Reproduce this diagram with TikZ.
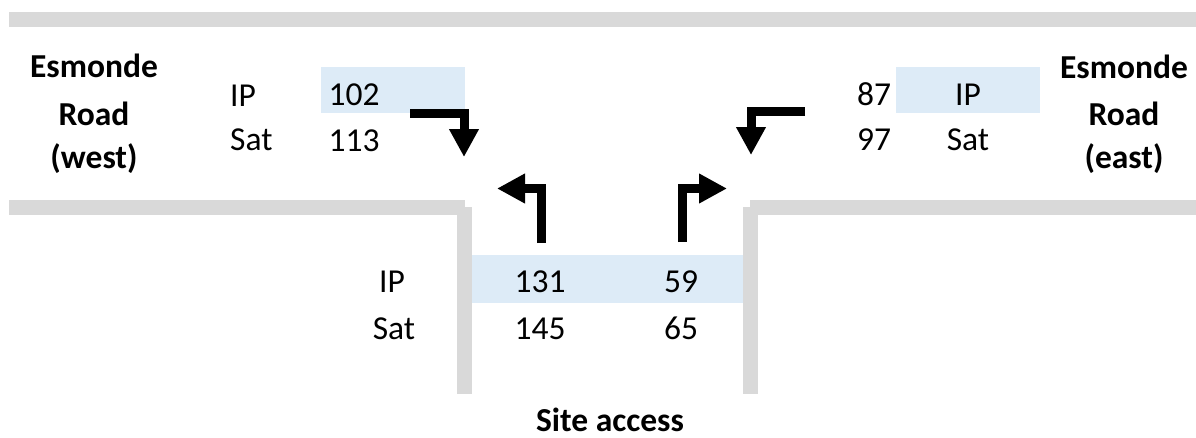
\documentclass[tikz,border=0pt]{standalone}
\usepackage{fontspec}
\setmainfont{Carlito}
\usetikzlibrary{arrows.meta}
\definecolor{kerbgrey}{HTML}{D9D9D9}
\definecolor{peakblue}{HTML}{DDEBF7}
\begin{document}
\begin{tikzpicture}[x=1pt,y=-1pt,
  kerb/.style={fill=kerbgrey,draw=none},
  peak/.style={fill=peakblue,draw=none},
  txt/.style={font=\fontsize{33.5}{40}\selectfont,inner sep=0pt,anchor=base},
  road/.style={txt,font=\fontsize{33.5}{40}\selectfont\bfseries},
  turn/.style={line width=9pt,line join=miter,
    -{Triangle[length=28pt,width=28pt]}}
]
\useasboundingbox (0,0) rectangle (1196,437);

% highlighted IP rows
\fill[peak] (321,67) rectangle (465,113);
\fill[peak] (896,67) rectangle (1040,113);
\fill[peak] (472,255) rectangle (743,303);

% kerb lines of the T-junction
\fill[kerb] (9,12) rectangle (1196,27);
\fill[kerb] (9,200) rectangle (465,215);
\fill[kerb] (457,207) rectangle (472,394);
\fill[kerb] (743,207) rectangle (758,394);
\fill[kerb] (750,200) rectangle (1196,215);

% approach names
\node[road] (w1) at (94,77) {Esmonde};
\node[road] (w2) at (94,125) {Road};
\node[road] (w3) at (94,168) {(west)};
\node[road] (e1) at (1124,78) {Esmonde};
\node[road] (e2) at (1124,125) {Road};
\node[road] (e3) at (1124,168) {(east)};
\node[road] (site) at (610,431) {Site access};

% west approach volumes
\node[txt,anchor=base west] (wip) at (230,106) {IP};
\node[txt,anchor=base west] (wsat) at (230,150) {Sat};
\node[txt] (wipv) at (354,105) {102};
\node[txt] (wsatv) at (354,151) {113};

% east approach volumes
\node[txt] (eipv) at (874,105) {87};
\node[txt] (esatv) at (874,150) {97};
\node[txt] (eip) at (968,105) {IP};
\node[txt] (esat) at (968,150) {Sat};

% site access volumes
\node[txt] (sip) at (392,292) {IP};
\node[txt] (ssat) at (394,339) {Sat};
\node[txt] (slip) at (540,292) {131};
\node[txt] (slsat) at (540,339) {145};
\node[txt] (srip) at (681,292) {59};
\node[txt] (srsat) at (681,339) {65};

% turning movements
\coordinate (wa) at (410,113.5);
\coordinate (wb) at (464,157);
\coordinate (ea) at (805,111.5);
\coordinate (eb) at (751,155);
\coordinate (la) at (541.5,243);
\coordinate (lb) at (497,188.5);
\coordinate (ra) at (682.5,242);
\coordinate (rb) at (727,188.5);
\draw[turn] (wa) -| (wb);
\draw[turn] (ea) -| (eb);
\draw[turn] (la) |- (lb);
\draw[turn] (ra) |- (rb);
\end{tikzpicture}
\end{document}
